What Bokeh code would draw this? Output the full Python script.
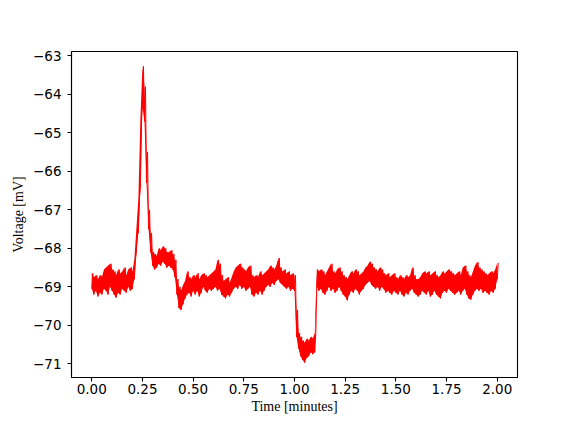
from bokeh.plotting import figure
from bokeh.models import FixedTicker, Range1d
from bokeh.embed import file_html
from bokeh.resources import INLINE

# Sample times (minutes), one sample every 0.01 min
time = [i / 100 for i in range(201)]

# Lower and upper extremes of the noisy trace read at each sample (mV)
v_low = [
    -69.05, -69.2, -69.1, -69.25, -69.15, -69.2, -69.05, -69.1, -69.2, -69.0,
    -69.1, -69.2, -69.28, -69.15, -69.2, -69.05, -69.1, -69.15, -69.0, -69.1,
    -69.05, -68.8, -68.1, -67.6, -66.4, -64.3, -64.7, -66.3, -67.5, -68.1,
    -68.45, -68.55, -68.5, -68.4, -68.45, -68.35, -68.4, -68.5, -68.45, -68.5,
    -68.55, -68.75, -69.2, -69.55, -69.6, -69.45, -69.3, -69.2, -69.15, -69.25,
    -69.1, -69.2, -69.1, -69.25, -69.15, -69.0, -69.1, -69.15, -69.05, -69.1,
    -69.05, -69.0, -69.1, -69.05, -69.2, -69.25, -69.3, -69.2, -69.25, -69.15,
    -69.05, -69.0, -69.05, -68.95, -69.05, -69.0, -69.1, -69.05, -69.0, -69.2,
    -69.25, -69.15, -69.2, -69.1, -69.2, -69.1, -69.0, -68.95, -69.0, -68.9,
    -68.95, -68.85, -68.8, -68.9, -68.95, -69.0, -69.05, -69.0, -69.1, -69.05,
    -69.1, -70.3, -70.6, -70.8, -70.9, -70.97, -70.85, -70.8, -70.7, -70.75,
    -70.7, -69.0, -69.1, -69.05, -69.15, -69.2, -69.1, -69.0, -69.1, -69.05,
    -69.15, -69.1, -69.0, -69.1, -69.2, -69.25, -69.35, -69.2, -69.1, -69.15,
    -69.05, -69.1, -69.2, -69.1, -69.05, -68.95, -68.9, -68.85, -68.95, -69.0,
    -69.05, -69.0, -69.1, -69.0, -69.05, -69.15, -69.1, -69.15, -69.2, -69.1,
    -69.15, -69.2, -69.1, -69.2, -69.25, -69.15, -69.2, -69.1, -69.05, -69.15,
    -69.2, -69.25, -69.2, -69.1, -69.15, -69.2, -69.1, -69.25, -69.2, -69.1,
    -69.2, -69.25, -69.3, -69.15, -69.1, -69.15, -69.05, -69.1, -69.15, -69.2,
    -69.15, -69.1, -69.2, -69.1, -69.05, -69.2, -69.3, -69.33, -69.2, -69.1,
    -69.05, -69.1, -69.05, -69.15, -69.1, -69.15, -69.2, -69.1, -69.15, -69.05,
    -68.8,
]
v_high = [
    -68.65, -68.75, -68.7, -68.8, -68.7, -68.75, -68.55, -68.5, -68.45, -68.4,
    -68.55, -68.6, -68.7, -68.55, -68.65, -68.6, -68.5, -68.7, -68.55, -68.5,
    -68.6, -68.3, -67.5, -66.7, -64.6, -63.27, -63.8, -65.5, -67.0, -67.6,
    -68.1, -68.15, -68.2, -68.0, -68.05, -67.95, -68.0, -68.1, -68.1, -68.05,
    -68.15, -68.3, -68.8, -69.0, -69.1, -68.95, -68.85, -68.6, -68.75, -68.8,
    -68.7, -68.75, -68.65, -68.8, -68.7, -68.65, -68.7, -68.75, -68.7, -68.65,
    -68.6, -68.55, -68.3, -68.4, -68.7, -68.85, -68.8, -68.75, -68.9, -68.75,
    -68.6, -68.5, -68.45, -68.4, -68.5, -68.55, -68.6, -68.5, -68.45, -68.7,
    -68.75, -68.7, -68.75, -68.6, -68.7, -68.65, -68.6, -68.55, -68.45, -68.5,
    -68.55, -68.45, -68.25, -68.5, -68.6, -68.55, -68.65, -68.6, -68.7, -68.65,
    -68.7, -69.6, -70.2, -70.3, -70.4, -70.45, -70.35, -70.4, -70.3, -70.35,
    -70.2, -68.55, -68.6, -68.55, -68.6, -68.7, -68.6, -68.5, -68.4, -68.6,
    -68.65, -68.55, -68.5, -68.6, -68.7, -68.75, -68.8, -68.7, -68.6, -68.65,
    -68.55, -68.6, -68.7, -68.65, -68.6, -68.5, -68.45, -68.35, -68.4, -68.5,
    -68.55, -68.6, -68.5, -68.55, -68.65, -68.7, -68.65, -68.75, -68.7, -68.65,
    -68.75, -68.8, -68.7, -68.75, -68.8, -68.7, -68.75, -68.7, -68.5, -68.7,
    -68.8, -68.8, -68.75, -68.65, -68.6, -68.65, -68.6, -68.7, -68.65, -68.6,
    -68.7, -68.75, -68.7, -68.6, -68.65, -68.6, -68.55, -68.6, -68.65, -68.7,
    -68.65, -68.6, -68.7, -68.5, -68.45, -68.6, -68.7, -68.75, -68.6, -68.45,
    -68.36, -68.5, -68.55, -68.6, -68.65, -68.7, -68.65, -68.6, -68.65, -68.55,
    -68.38,
]

x_ticks = [0.0, 0.25, 0.5, 0.75, 1.0, 1.25, 1.5, 1.75, 2.0]
x_tick_labels = ["0.00", "0.25", "0.50", "0.75", "1.00", "1.25", "1.50", "1.75", "2.00"]
y_ticks = [-71, -70, -69, -68, -67, -66, -65, -64, -63]
y_tick_labels = ["\u221271", "\u221270", "\u221269", "\u221268", "\u221267",
                 "\u221266", "\u221265", "\u221264", "\u221263"]

# interleave the extremes into one dense trace
half_step = (time[1] - time[0]) / 2
t_trace, v_trace = [], []
for t, lo, hi in zip(time, v_low, v_high):
    t_trace += [t, t + half_step]
    v_trace += [lo, hi]

x_span = time[-1] - time[0]
v_min, v_max = min(v_low), max(v_high)
y_span = v_max - v_min

p = figure(width=560, height=416, output_backend="svg", toolbar_location=None,
           x_range=Range1d(time[0] - 0.05 * x_span, time[-1] + 0.05 * x_span),
           y_range=Range1d(v_min - 0.05 * y_span, v_max + 0.05 * y_span),
           min_border_left=71, min_border_right=43, min_border_top=51,
           min_border_bottom=34)

p.varea(x=time, y1=v_low, y2=v_high, fill_color="red", fill_alpha=1)
p.line(t_trace, v_trace, color="red", line_width=1)

p.grid.visible = False
p.outline_line_color = "black"
p.outline_line_width = 1.1
p.outline_line_alpha = 1

for ax in (p.xaxis[0], p.yaxis[0]):
    ax.axis_line_color = "black"
    ax.axis_line_width = 1.1
    ax.major_tick_line_color = "black"
    ax.major_tick_line_width = 1.1
    ax.major_tick_out = 4
    ax.major_tick_in = 0
    ax.minor_tick_line_color = None
    ax.major_label_text_font = "DejaVu Sans"
    ax.major_label_text_font_size = "13.5px"
    ax.major_label_text_color = "black"
    ax.axis_label_text_font = "Liberation Serif"
    ax.axis_label_text_font_size = "14px"
    ax.axis_label_text_font_style = "normal"
    ax.axis_label_text_color = "black"

p.xaxis.ticker = FixedTicker(ticks=x_ticks)
p.xaxis.major_label_overrides = dict(zip(x_ticks, x_tick_labels))
p.yaxis.ticker = FixedTicker(ticks=y_ticks)
p.yaxis.major_label_overrides = dict(zip(y_ticks, y_tick_labels))
p.xaxis.axis_label = "Time [minutes]"
p.yaxis.axis_label = "Voltage [mV]"
p.xaxis.major_label_standoff = 2
p.xaxis.axis_label_standoff = 2
p.yaxis.major_label_standoff = 6
p.yaxis.axis_label_standoff = 4

open("out.html", "w").write(file_html(p, INLINE))
